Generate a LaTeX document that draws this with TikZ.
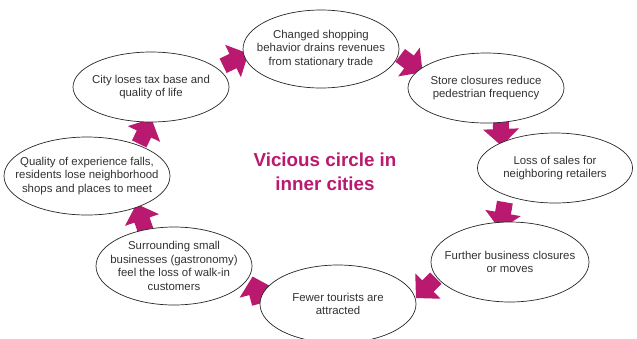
\documentclass[tikz,border=0pt]{standalone}
\usepackage{fontspec}
\setmainfont{Liberation Sans}
\usetikzlibrary{shapes.geometric,backgrounds}
\definecolor{mag}{RGB}{185,25,110}
\definecolor{txtc}{RGB}{50,50,50}
\tikzset{
  bub/.style={ellipse, draw=black!85, line width=0.7bp, fill=white, inner sep=0pt},
  lbl/.style={align=center, inner sep=0pt, text=txtc, font=\fontsize{11.4bp}{13.7bp}\selectfont},
  title/.style={align=center, inner sep=0pt, text=mag, font=\fontsize{18.8bp}{23.5bp}\selectfont\bfseries},
  blockarrow/.pic={\fill[mag] (-11,-8) -- (0,-8) -- (0,-18) -- (17,0) -- (0,18) -- (0,8) -- (-11,8) -- cycle;}
}
\begin{document}
\begin{tikzpicture}[x=1bp,y=-1bp]
\useasboundingbox (0,0) rectangle (637,338);
% bubbles
\node[bub, minimum width=156bp, minimum height=78bp] (chg) at (321,49) {};
\node[lbl] (chgt) at (chg) {Changed shopping\\behavior drains revenues\\from stationary trade};
\node[bub, minimum width=156bp, minimum height=70bp] (store) at (486,88) {};
\node[lbl] (storet) at (store) {Store closures reduce\\pedestrian frequency};
\node[bub, minimum width=155bp, minimum height=70bp] (loss) at (555,168) {};
\node[lbl] (losst) at (loss) {Loss of sales for\\neighboring retailers};
\node[bub, minimum width=158bp, minimum height=80bp] (further) at (510,262) {};
\node[lbl] (furthert) at (further) {Further business closures\\or moves};
\node[bub, minimum width=156bp, minimum height=78bp] (fewer) at (338,304) {};
\node[lbl] (fewert) at (fewer) {Fewer tourists are\\attracted};
\node[bub, minimum width=156bp, minimum height=78bp] (surr) at (174,266) {};
\node[lbl] (surrt) at (surr) {Surrounding small\\businesses (gastronomy)\\feel the loss of walk-in\\customers};
\node[bub, minimum width=166bp, minimum height=78bp] (qual) at (87,176) {};
\node[lbl] (qualt) at (qual) {Quality of experience falls,\\residents lose neighborhood\\shops and places to meet};
\node[bub, minimum width=156bp, minimum height=70bp] (city) at (151,87) {};
\node[lbl] (cityt) at (city) {City loses tax base and\\quality of life};
% title
\node[title] (ttl) at (325,172) {Vicious circle in\\inner cities};
% arrows
\coordinate (a1) at (233,61);
\coordinate (a2) at (409,62);
\coordinate (a3) at (501,129);
\coordinate (a4) at (503,213);
\coordinate (a5) at (428,286);
\coordinate (a6) at (257,293);
\coordinate (a7) at (142,220);
\coordinate (a8) at (144,134);
\begin{scope}[on background layer]
\pic[rotate=26] at (a1) {blockarrow};
\pic[rotate=-37] at (a2) {blockarrow};
\pic[rotate=-88] at (a3) {blockarrow};
\pic[rotate=-100] at (a4) {blockarrow};
\pic[rotate=-135] at (a5) {blockarrow};
\pic[rotate=105] at (a6) {blockarrow};
\pic[rotate=109] at (a7) {blockarrow};
\pic[rotate=64] at (a8) {blockarrow};
\end{scope}
\end{tikzpicture}
\end{document}
